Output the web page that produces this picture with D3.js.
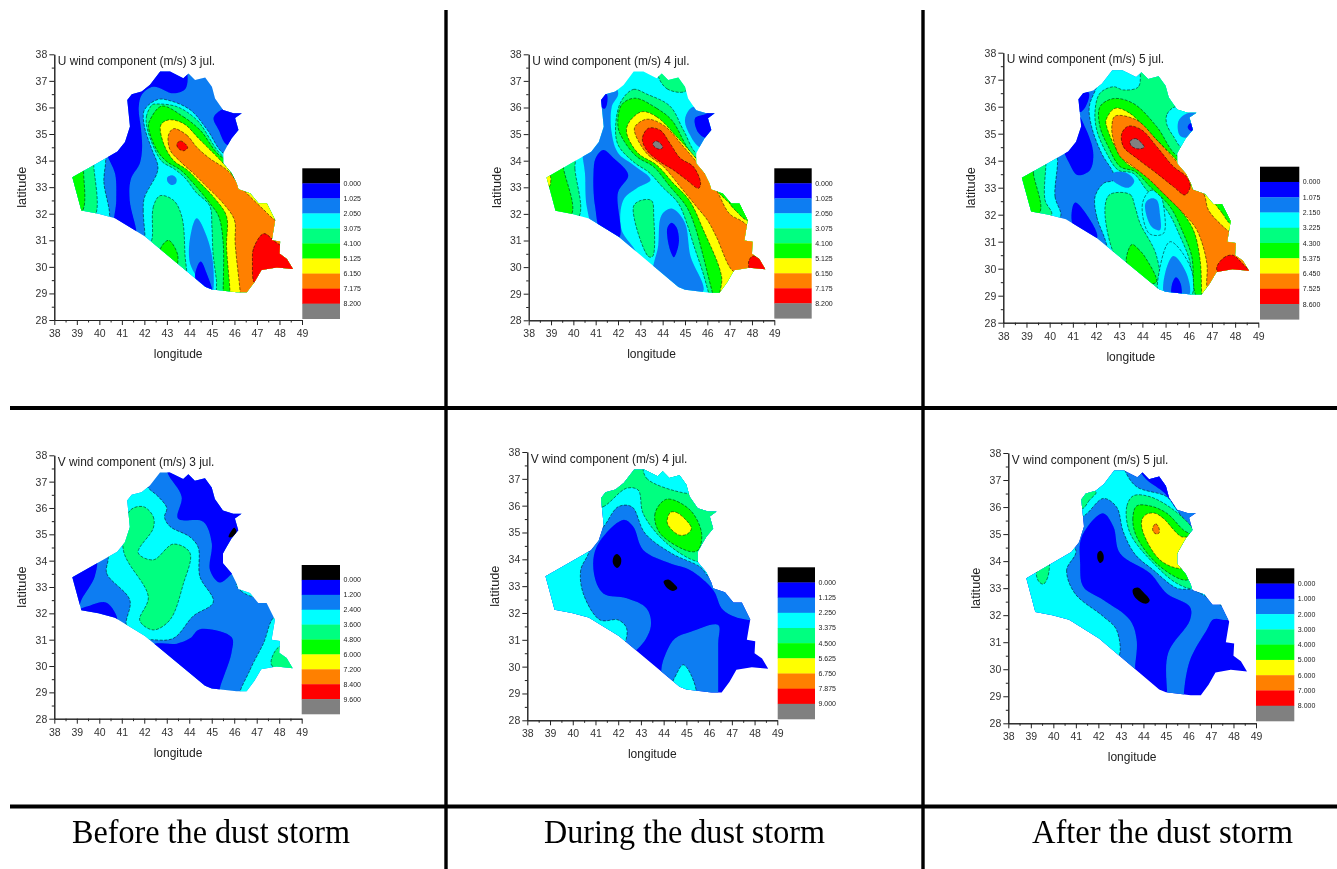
<!DOCTYPE html>
<html><head><meta charset="utf-8">
<script src="https://cdn.jsdelivr.net/npm/d3@7"></script>
<style>html,body{margin:0;padding:0;background:#fff}svg{display:block}</style>
</head><body><div id="chart"></div>
<script>
// ---------- data (longitude / latitude) ----------
const bandColors = ["#000000","#0000ff","#0a7df2","#00ffff","#00ff80","#00ff00","#ffff00","#ff8000","#ff0000","#808080"];
const lonTicks = [38,39,40,41,42,43,44,45,46,47,48,49];
const latTicks = [28,29,30,31,32,33,34,35,36,37,38];
const captions = ["Before the dust storm","During the dust storm","After the dust storm"];
const titles = ["U wind component (m/s) 3 jul.","U wind component (m/s) 4 jul.","U wind component (m/s) 5 jul.",
                "V wind component (m/s) 3 jul.","V wind component (m/s) 4 jul.","V wind component (m/s) 5 jul."];
const legendU3 = ["0.000","1.025","2.050","3.075","4.100","5.125","6.150","7.175","8.200"];
const legendU4 = ["0.000","1.025","2.050","3.075","4.100","5.125","6.150","7.175","8.200"];
const legendU5 = ["0.000","1.075","2.150","3.225","4.300","5.375","6.450","7.525","8.600"];
const legendV3 = ["0.000","1.200","2.400","3.600","4.800","6.000","7.200","8.400","9.600"];
const legendV4 = ["0.000","1.125","2.250","3.375","4.500","5.625","6.750","7.875","9.000"];
const legendV5 = ["0.000","1.000","2.000","3.000","4.000","5.000","6.000","7.000","8.000"];

const iraqOutline = [[38.8,33.37],[39.9,33.9],[40.8,34.34],[41.14,34.7],[41.36,35.28],[41.24,36.28],[41.44,36.5],[41.88,36.6],[42.25,36.85],[42.7,37.35],[43.14,37.35],[43.73,37.1],[43.96,37.28],[44.25,37.03],[44.7,37.13],[45.0,36.78],[45.14,36.34],[45.5,35.9],[45.96,35.78],[46.33,35.78],[46.03,35.6],[46.18,35.15],[45.88,34.84],[45.66,34.52],[45.5,34.27],[45.5,33.9],[45.88,33.52],[46.1,33.14],[46.18,32.92],[46.7,32.77],[47.07,32.39],[47.44,32.39],[47.81,31.76],[47.66,31.0],[48.03,30.95],[48.0,30.5],[48.33,30.3],[48.6,29.92],[47.88,29.98],[47.2,29.88],[46.9,29.44],[46.55,29.04],[46.1,29.04],[45.0,29.15],[44.7,29.25],[42.03,31.14],[40.7,31.83],[39.96,32.0],[39.2,32.12]];

// each band: [colour level, [lon,lat, lon,lat, ...]]; later bands paint over earlier ones
const bandsU3 = [
 [2,[36,26,50,26,50,39,36,39]],
 [1,[41.6,31,41.65,31.3,41.35,32.5,41.4,33.3,41.8,33.9,41.9,34.5,41.85,35.2,41.75,36,41.9,36.5,42.4,36.78,43.3,36.53,43.84,36.72,43.75,37.6,42,37.6,40.5,36,40.3,34.4,40.7,33.5,40.75,32.5,40.7,31.3]],
 [1,[45.3,35.85,45.07,35.6,45.3,35.15,45.66,34.6,46.5,34.6,46.6,36,45.8,36]],
 [3,[42.03,31.1,41.95,32.1,42,32.6,42.55,33.5,42.6,33.8,42.3,34.5,42,35.3,42,35.9,42.6,36.3,43.15,36.25,44.05,35.9,44.8,35.15,45.55,34.25,47,34,50,32,49,28,44,28,42,30.5]],
 [3,[40.2,34.4,40.2,33.2,40.35,31.6,38,31.5,37.5,33.5,39,35]],
 [4,[39.75,34.3,39.75,33.85,39.85,32,39.3,31.5,37.8,33,38.8,34.5]],
 [5,[39.3,34,39.3,33.6,39.25,32.1,38.6,31.8,38.2,33.3]],
 [2,[44.33,31.83,44.1,31.4,44.03,30.13,44.7,29.25,45,29,45.05,30.13,44.77,31.14]],
 [1,[44.5,30.2,44.25,29.63,44.6,29,45,29,44.77,29.75]],
 [2,[43.02,33.37,43.22,33.45,43.42,33.33,43.4,33.15,43.2,33.08,43.03,33.2]],
 [4,[42.7,32.68,42.4,32.27,42.35,31.1,42.2,30.5,43.8,29.5,43.8,30.5,43.66,31.9,43.3,32.5]],
 [5,[43.07,31,42.7,30.6,43.4,30,43.48,30.45]],
 [4,[42.35,36.1,42.1,35.7,42.1,35.3,42.47,34.4,42.8,33.95,43.3,33.7,43.8,33.35,44.3,32.8,44.9,32.3,45,31.5,45.05,30.5,45.2,29.5,45.3,28.8,47,28.5,50,30,50,33,47,34,45.6,34.1,44.33,35.53,43.44,36.03,42.55,36.13]],
 [5,[42.77,36.05,43.73,35.65,44.47,35.15,45.5,34.1,47,34,50,32,49,28,45.5,28.6,45.5,29.1,45.5,30.9,45.3,31.9,44.9,32.4,44.18,33.14,43.6,33.65,43,33.96,42.55,34.4,42.18,35.28,42.25,35.53]],
 [6,[43.07,35.53,43.73,35.4,44.47,34.78,45.5,33.9,45.8,33.6,46.1,33.2,46.7,32.9,47.44,32.6,47.9,31.9,48.5,31.5,50,30,49,28,45.8,28.6,45.8,29.1,45.65,30.75,45.65,31.9,45.2,32.5,44.5,33.14,43.9,33.65,43.3,34,42.85,34.65,42.73,35.34]],
 [7,[43.3,35.2,43.88,34.96,44.33,34.5,44.9,34.08,45.66,33.65,46.4,32.9,47.3,32.15,47.8,31.76,48.5,31.5,50,30,49,28,46.3,28.6,46.25,29.1,46.03,30.9,46,31.76,45.5,32.39,44.77,33.02,44.18,33.52,43.6,33.96,43.14,34.4,43.07,34.96]],
 [8,[46.8,30.2,46.85,30.7,47.3,31.25,47.8,30.95,48.5,30.5,49,29.8,47.5,29.8,46.9,29.4]],
 [8,[43.44,34.62,43.6,34.74,43.85,34.6,43.92,34.48,43.75,34.37,43.52,34.45]],
];
const bandsU4 = [
 [3,[36,26,50,26,50,39,36,39]],
 [2,[42.9,30.4,42.72,30.7,42.16,31.4,42.24,32.52,42.84,32.96,43.46,33.28,42.69,33.84,42.01,34.28,41.72,35.03,41.72,36.03,42.01,36.53,41.7,37,40.8,36.5,40.4,34.5,40.52,33.53,40.6,32.27,41,31.2,41.8,30.6]],
 [1,[41.34,34.4,41.8,34.1,42.46,33.46,42,32.8,42.05,31.1,41.34,31.1,40.97,32.3,40.9,33.5,41,34.1]],
 [1,[41.5,36.5,41.5,36.1,41.4,35.95,41.1,36.2,41.3,36.6]],
 [2,[45.3,36,45,35.55,45.2,35,45.67,34.5,46.5,34.5,46.5,35.8,45.8,36]],
 [1,[45.9,35.75,45.45,35.6,45.6,35.05,46,34.85,46.6,35.2,46.4,35.9]],
 [4,[43.8,37.2,44.2,36.7,45,36.6,45.2,37,44.5,37.6,43.9,37.5]],
 [4,[40.07,34.4,40.07,33.7,40.3,32,39.8,31.5,38,33,39,34.5]],
 [5,[39.55,34.3,39.55,33.78,39.93,32,39,31.6,38.2,33.2]],
 [6,[38.95,33.45,38.9,33,38.5,33.1,38.5,33.5]],
 [4,[42.15,36.25,42.69,36.68,43.3,36.5,44.33,36.05,44.93,35.15,45.6,34.2,47,34,50,32,49,28,46.2,28.6,46.1,28.9,45.8,29.8,45.4,30.8,45.1,31.6,44.7,32.4,44,33,43.4,33.55,42.7,33.95,42,34.6,41.9,35.4]],
 [2,[44.4,32.2,43.95,31.95,43.8,30.8,43.6,29.6,45,28.8,45.82,29.1,45.25,30.4,44.98,31.7]],
 [1,[44.4,31.67,44.62,31.5,44.73,31,44.6,30.5,44.5,30.37,44.35,30.6,44.2,31.2,44.22,31.5]],
 [4,[43,32.5,43.5,32.5,43.6,31.9,43.55,30.4,43.36,30.4,42.69,32.27]],
 [5,[42.76,36.35,43.73,35.97,44.4,35.53,45.52,34.1,47,34,50,32,49,28,46.4,28.6,46.2,29.14,45.82,30.4,45.45,31.52,45.07,32.27,44.33,33.03,43.58,33.78,42.84,34.15,42.24,34.78,42,35.28,42.16,36.1]],
 [6,[43.06,35.84,43.73,35.65,44.63,34.9,45.6,33.97,46.4,32.9,47,32.4,47.85,31.8,49,31,50,30,49,28,46.6,28.6,46.64,29.64,45.82,31.4,45.2,32.5,44.48,33.15,43.73,33.84,42.9,34.28,42.39,35.03,42.46,35.4]],
 [5,[47,32.45,47.3,32.1,47.85,31.75,48.3,32.3,47.4,32.8]],
 [7,[43.28,35.56,44.03,35.34,44.93,34.53,45.67,33.78,46.4,32.9,47,32,47.6,31.7,48.5,31,50,30,48,28.5,47.5,29.6,47.04,29.95,46.4,31.15,46,31.77,45.52,32.27,44.78,33.03,44.03,33.78,43.28,34.28,42.76,35.03,42.76,35.28]],
 [8,[43.36,35.22,43.88,35.15,44.33,34.65,44.78,34.1,45.37,33.78,45.7,33.15,45.6,32.96,45.07,33.28,44.48,33.65,43.88,33.96,43.28,34.4,43.09,34.84]],
 [9,[43.56,34.65,43.72,34.74,43.95,34.6,44,34.48,43.82,34.44,43.62,34.53]],
 [8,[47.85,30.2,48.05,30.42,48.5,30.2,48.8,29.8,48,29.75]],
];
const bandsU5 = [
 [2,[36,26,50,26,50,39,36,39]],
 [1,[41.5,36.6,41.7,36.5,41.55,36,41.3,35.8,41,36.3]],
 [1,[41.2,35.7,41.55,35.2,41.88,34.3,41.74,33.65,41.2,33.47,40.85,33.9,40.6,34.5,40.9,35.2]],
 [1,[41.1,32.45,41.6,32,42.05,31.15,41.5,31,41,31.6,40.95,32.1]],
 [3,[42.46,30.88,42.03,31.93,41.96,32.67,42.32,33.16,42.75,33.28,42.75,33.53,42.24,34.27,41.81,35.26,41.71,36,42.03,36.74,42.5,38,50,38,50,28,43,28]],
 [2,[42.75,33.55,43.3,33.55,43.65,33.25,43.4,33,42.9,33.15,42.7,33.3]],
 [3,[40.23,34.5,40.23,32.67,40.45,31.9,38,31.5,37.5,33.5,39,35]],
 [4,[39.84,34.3,39.84,33.9,39.8,32.54,40.09,32.0,39.3,31.5,37.8,33,38.8,34.5]],
 [5,[39.3,34,39.3,33.53,39.58,32.1,38.8,31.8,38.2,33.3]],
 [4,[43.9,37.6,43.83,36.74,43.18,36.62,42.75,36.74,42.17,36.5,41.96,35.88,42.03,35.14,42.46,34.27,42.96,33.65,43.61,33.53,44.19,32.91,45.05,32.17,45.63,31.19,46.06,30.2,46.06,29.09,46.5,28,50,28,50,38,44,38]],
 [3,[45.3,35.95,45.05,35.7,45.05,35.35,45.34,34.9,45.75,34.45,46.8,34.6,46.7,36.2,45.9,36.1]],
 [2,[45.85,35.72,45.55,35.45,45.6,34.95,45.85,34.85,46.5,35.1,46.4,35.8]],
 [1,[46.1,35.4,45.95,35.25,46.1,35.1,46.4,35.25]],
 [4,[42.6,32.75,43.47,32.75,43.68,32.3,43.9,31.68,44.6,30.5,44.7,29.2,43.5,29.5,42.7,30.7,42.39,32.3]],
 [5,[43.55,30.9,43.8,30.75,44.1,30.45,44.6,29.5,43.6,29.6,43.3,30.3]],
 [3,[44.36,32.9,44,32.4,44.3,31.3,44.9,31.3,44.95,32.1,44.75,32.75]],
 [2,[44.36,32.6,44.12,32.4,44.4,31.55,44.76,31.43,44.76,32,44.62,32.54]],
 [3,[45.2,31,44.75,30,44.75,29,46.1,29,46.1,30]],
 [2,[45.34,30.47,44.98,29.83,44.98,29,46,29,45.9,29.83]],
 [1,[45.45,29.68,45.27,29.4,45.3,28.9,45.65,28.9,45.65,29.45]],
 [5,[42.75,36.3,43.61,36.12,44.62,35.26,45.55,34.15,47,34,50,32,49,28,46.6,28.6,46.27,29.09,46.13,30.45,45.77,31.3,45.19,32.3,44.33,33.04,43.68,33.6,43.04,33.78,42.53,34.52,42.17,35.26,42.17,36]],
 [6,[42.82,35.94,43.47,35.75,44.33,35,45.34,34.15,46.05,33.4,46.4,32.95,46.65,32.8,47.4,32.3,48,31.6,49,31,50,30,49,28,46.6,28.6,46.56,29.09,46.49,30.32,46.2,31.43,45.63,32.17,44.76,32.91,44.04,33.53,43.32,33.9,42.82,34.52,42.46,35.26,42.43,35.5]],
 [5,[47.1,32.55,47.45,32.05,47.85,31.65,48.5,32,47.5,33]],
 [7,[42.82,35.65,43.76,35.5,44.62,34.77,45.48,33.96,46.06,33.4,46.13,32.98,46.63,32.79,46.85,32.17,47.5,31.55,47.78,31.37,50,31,50,28,47,28.5,46.78,29.33,46.78,30.2,46.35,31.43,45.77,32.05,45.05,32.67,44.33,33.28,43.61,33.78,43.04,34.15,42.75,34.77,42.68,35.26]],
 [8,[43.4,35.28,43.97,35.14,44.62,34.52,45.34,33.78,45.91,33.4,46.06,33.04,45.84,32.73,45.34,33.04,44.62,33.53,43.76,34.09,43.18,34.52,43.11,35.01]],
 [9,[43.47,34.72,43.7,34.82,44,34.62,44.08,34.5,43.8,34.44,43.52,34.55]],
 [8,[47.2,30,47.5,30.4,47.9,30.5,48.3,30.2,48.8,29.7,47.5,29.7]],
];
const bandsV3 = [
 [2,[36,26,50,26,50,39,36,39]],
 [1,[43,37.6,43.05,37.3,43.66,36.43,43.5,35.6,44.62,35.48,45,34.66,44.92,33.65,45.36,33.17,45.9,33.5,46.6,34,46.6,36,45,37.6]],
 [0,[46,35.25,45.75,34.9,45.9,34.9,46.1,35.1]],
 [1,[39.85,34.1,39.8,33.4,39.2,32.5,39,32,38.3,33.3]],
 [1,[39.1,32.1,39.6,32.3,40.33,32.4,40.8,31.7,40.1,31.5]],
 [3,[40.4,34.1,40.33,33.52,41.36,32.5,41.2,31.55,41.6,31,42.25,31,43.29,31.05,44.18,31.9,45.07,32.43,44.47,33.4,44.4,34.5,44.03,34.9,43.14,35.3,42.9,35.65,43,36,42.6,36.45,42.15,36.8,42,37.3,41,37.2,40.3,35]],
 [4,[41.96,36.05,42.4,35.67,42.4,35.23,41.73,34.3,42.4,34.03,43.29,34.63,44.03,34.3,43.73,33.1,43.14,31.75,42.4,31.37,41.8,31.73,42.18,32.62,41.07,34.4,41.36,35.9]],
 [3,[46.1,33.1,46.3,32.85,46.85,32.63,47.1,32.7,46.8,33.2]],
 [3,[46.25,28.8,46.7,29.85,47.3,30.86,47.8,31.85,48.6,31.5,49,30,47.5,29]],
 [4,[48.03,30.75,47.65,30.05,48.8,29.7,48.8,30.5]],
 [1,[42.4,30.8,43.44,30.85,44.03,31.05,44.47,31.4,45.88,31.1,45.88,30.5,45.36,29.15,45.3,28.8,44,29.3]],
];
const bandsV4 = [
 [1,[36,26,50,26,50,39,36,39]],
 [2,[43.43,31.49,43.25,32.17,42.37,32.55,41.34,32.73,40.93,33.48,41.05,34.47,42.22,35.47,42.66,35.22,43.1,34.35,44.28,33.85,45.16,33.6,46.18,32.86,46.62,32.11,47.72,31.74,50,32,50,38,40,38,37,34,38,30,41,30,42.8,30.62]],
 [2,[46.4,31.55,45.2,31.3,44.5,31.05,44.1,30.5,43.9,29.9,44,29.2,46.4,28.8,46.4,29.1,46.4,30,46.4,30.9]],
 [3,[44.86,30.07,44.55,29.7,44.4,29.3,45.4,29,45.2,29.7]],
 [3,[40.7,34.4,40.35,33.6,40.46,32.73,41.2,31.74,42,31.74,42.37,31.43,42.2,30.8,41,30.8,38,32,38,34,39.5,35]],
 [3,[40.9,34.9,41.34,35.2,42,35.96,42.6,35.96,43.18,34.97,44.35,34.22,45.6,33.72,46.1,33.3,47,33.8,47.5,38,40.5,38,40.4,36]],
 [4,[40.8,35.9,41.34,35.96,42.37,36.65,42.88,36.58,43.1,35.7,44.13,34.6,45.52,33.91,46.2,34,47,36,47,38,41,38]],
 [3,[43.15,37.5,43.25,37.02,45,36.46,45.5,36.5,45.5,37.6]],
 [5,[44.13,36.24,43.62,35.71,43.84,34.97,45.16,34.29,45.52,34.35,45.67,34.97,45.16,35.84]],
 [6,[44.3,35.75,44.55,35.75,45,35.45,45.22,35.15,45.05,34.95,44.7,34.9,44.3,35.15,44.15,35.4]],
 [0,[41.8,34.1,41.95,34.2,42.12,34.05,42.1,33.8,41.94,33.68,41.77,33.85]],
 [0,[44,33.18,44.2,33.25,44.5,33.05,44.6,32.92,44.4,32.82,44.1,32.98]],
];
const bandsV5 = [
 [1,[36,26,50,26,50,39,36,39]],
 [2,[43.6,29.8,43.63,30.1,43.7,31.08,43.4,31.82,42.22,32.56,41.33,33.05,41.19,33.92,41.26,34.9,42.2,35.77,42.67,35.27,42.96,34.29,44.3,33.55,45.04,32.8,46.07,32.3,46.07,31.82,45.1,30.6,45.05,29.2,45.1,28.8,45.8,28.8,45.8,29.15,46.07,30.34,46.81,31.45,47.11,31.85,47.7,31.82,48.5,31.9,48,34,47,38,40,38,37,34,38,30,41,30]],
 [1,[43.85,37.4,44.1,37.05,44.96,36.5,45.3,36.05,45.8,36.3,45.2,37.5]],
 [3,[41,34.4,40.59,33.67,40.96,32.8,42.22,31.95,42.81,31.45,42.85,30.4,41,30.6,38,32,38,34,39.5,35.5]],
 [3,[40.8,35.5,41.4,35.7,42.22,36.32,42.81,36,43.1,35.1,43.63,34.25,44.44,33.67,45.48,33,46.22,32.93,47.4,32.38,48,32.2,47,33.5,46.7,35,46.22,35.15,45.48,35.9,45.04,36.38,43.7,36.75,43.18,37.35,43,38,41,38]],
 [4,[43.56,36.42,43.26,36.02,43.41,35.03,44.59,33.8,45.48,33.18,46.15,33,46.35,33.35,46.6,34.5,46.2,35.2,45.33,35.9,44.3,36.38]],
 [5,[43.7,36.04,43.53,35.58,43.7,34.9,44.74,33.8,45.93,33.3,46.3,33.7,46.4,34.8,45.78,35.15,45.04,35.77,44.3,36.04]],
 [6,[44.15,35.74,43.93,35.52,44,35.03,44.74,34.04,45.56,33.73,46,33.8,46.2,34.9,45.7,34.9,44.89,35.58,44.52,35.77]],
 [7,[44.42,35.25,44.55,35.38,44.68,35.25,44.7,35.05,44.58,35,44.43,35.1]],
 [4,[41.9,36.55,41.6,36.25,41.3,35.95,41,36.3,41.5,36.7]],
 [4,[39.8,33.95,39.75,33.4,39.56,33.15,39.35,33.25,39.25,33.6,39.5,33.75]],
 [0,[41.97,34.3,42.1,34.38,42.22,34.25,42.22,34.03,42.08,33.93,41.97,34.05]],
 [0,[43.53,32.95,43.75,33.02,44,32.85,44.28,32.55,44.15,32.43,43.85,32.5,43.58,32.72]],
];
const panelBands = [bandsU3,bandsU4,bandsU5,bandsV3,bandsV4,bandsV5];
const panelLegends = [legendU3,legendU4,legendU5,legendV3,legendV4,legendV5];

// ---------- layout ----------
const frames = [
 {x:[54.3,302],y:[320,54.3],lg:[302.3,340,168.3,318.7]},
 {x:[528.7,774.3],y:[320.3,54.3],lg:[774.3,811.7,168.3,318.3]},
 {x:[1003.3,1258.3],y:[322.7,52.7],lg:[1260,1299.3,166.7,319.3]},
 {x:[54.3,301.7],y:[718.7,455.3],lg:[301.7,340,565,714]},
 {x:[527.3,777.3],y:[720.3,452],lg:[777.7,815,567.3,719]},
 {x:[1008.3,1256],y:[723.3,453],lg:[1256,1294.3,568.3,721]},
];
const rules = [[10,408,1337,408,4],[10,806.5,1337,806.5,4],[446,10,446,869,3.4],[923,10,923,869,3.4]];
const captionBoxes = [[72,843,278],[544,843,281],[1032,843,261]];

const svg = d3.select("#chart").append("svg").attr("width",1337).attr("height",869)
  .style("font-family","'Liberation Sans',Arial,sans-serif");
const defs = svg.append("defs");
defs.append("filter").attr("id","soft").attr("x","-5%").attr("y","-5%").attr("width","110%").attr("height","110%")
  .append("feGaussianBlur").attr("stdDeviation",0.4);

frames.forEach((f,i)=>{
  const x = d3.scaleLinear().domain([38,49]).range(f.x);
  const y = d3.scaleLinear().domain([28,38]).range(f.y);
  const g = svg.append("g").attr("class","panel").attr("filter","url(#soft)");
  const outlinePath = d3.line().x(d=>x(d[0])).y(d=>y(d[1])).curve(d3.curveLinearClosed);
  defs.append("clipPath").attr("id","clip"+i).append("path").attr("d",outlinePath(iraqOutline));
  const smooth = d3.line().x(d=>x(d[0])).y(d=>y(d[1])).curve(d3.curveCatmullRomClosed.alpha(0.5));
  const bands = g.append("g").attr("clip-path",`url(#clip${i})`);
  panelBands[i].forEach(([level,flat],k)=>{
    const ring = d3.range(0,flat.length,2).map(j=>[flat[j],flat[j+1]]);
    const p = bands.append("path").attr("fill",bandColors[level]);
    if(k===0){ p.attr("d",outlinePath(ring)); return; }
    p.attr("d",smooth(ring));
    if(level>=3) p.attr("stroke","#000").attr("stroke-width",0.6).attr("stroke-dasharray","3,1.5").attr("stroke-opacity",0.85);
  });
  // axes
  const ax = (sel,a)=>{ sel.call(a); sel.select(".domain").attr("stroke","#222"); sel.selectAll("line").attr("stroke","#222");
    sel.selectAll("text").attr("fill","#333").style("font-size","10.5px").style("font-family","'Liberation Sans',Arial,sans-serif"); };
  const bottomY = f.y[0], leftX = f.x[0];
  const half = lonTicks.slice(0,-1).map(d=>d+0.5), halfLat = latTicks.slice(0,-1).map(d=>d+0.5);
  g.append("g").attr("transform",`translate(0,${bottomY})`).call(s=>ax(s,d3.axisBottom(x).tickValues(half).tickSize(2.5).tickFormat("").tickSizeOuter(0)));
  g.append("g").attr("transform",`translate(${leftX},0)`).call(s=>ax(s,d3.axisLeft(y).tickValues(halfLat).tickSize(2.5).tickFormat("").tickSizeOuter(0)));
  g.append("g").attr("transform",`translate(0,${bottomY})`).call(s=>ax(s,d3.axisBottom(x).tickValues(lonTicks).tickSize(5).tickPadding(4.5).tickSizeOuter(0)));
  g.append("g").attr("transform",`translate(${leftX},0)`).call(s=>ax(s,d3.axisLeft(y).tickValues(latTicks).tickSize(5).tickPadding(2).tickSizeOuter(0)));
  g.append("text").attr("x",leftX+3.5).attr("y",f.y[1]+10.7).attr("font-size",11.9).attr("fill","#222").text(titles[i]);
  g.append("text").attr("x",(f.x[0]+f.x[1])/2).attr("y",bottomY+38).attr("text-anchor","middle").attr("font-size",12).attr("fill","#222").text("longitude");
  g.append("text").attr("transform",`translate(${leftX-28},${(f.y[0]+f.y[1])/2}) rotate(-90)`).attr("text-anchor","middle").attr("font-size",12.8).attr("fill","#222").text("latitude");
  // colour key
  const [lx0,lx1,ly0,ly1] = f.lg;
  const ky = d3.scaleBand().domain(d3.range(bandColors.length)).range([ly0,ly1]);
  g.append("g").selectAll("rect").data(bandColors).join("rect")
    .attr("x",lx0).attr("width",lx1-lx0).attr("y",(d,j)=>ky(j)).attr("height",ky.bandwidth()+0.3).attr("fill",d=>d);
  g.append("g").selectAll("text").data(panelLegends[i]).join("text")
    .attr("x",lx1+3.5).attr("y",(d,j)=>ky(j+1)+2.5).attr("font-size",7).attr("fill","#222").text(d=>d);
});

svg.append("g").selectAll("line").data(rules).join("line")
  .attr("x1",d=>d[0]).attr("y1",d=>d[1]).attr("x2",d=>d[2]).attr("y2",d=>d[3]).attr("stroke","#000").attr("stroke-width",d=>d[4]);
svg.append("g").selectAll("text").data(captions).join("text")
  .attr("x",(d,i)=>captionBoxes[i][0]).attr("y",(d,i)=>captionBoxes[i][1])
  .attr("textLength",(d,i)=>captionBoxes[i][2]).attr("lengthAdjust","spacingAndGlyphs")
  .attr("font-family","'Liberation Serif','Times New Roman',serif").attr("font-size",33).attr("fill","#000").text(d=>d);
</script></body></html>
